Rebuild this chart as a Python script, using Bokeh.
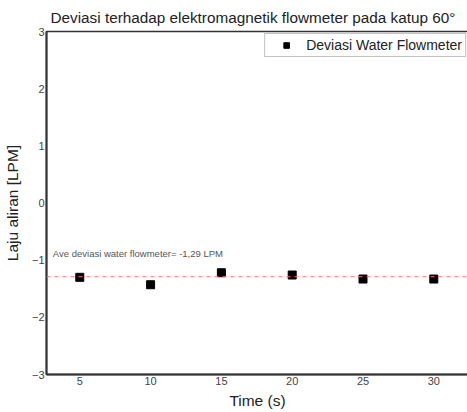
from bokeh.plotting import figure
from bokeh.models import Span, Label, Range1d, FixedTicker, Legend, LegendItem
from bokeh.embed import file_html
from bokeh.resources import INLINE

time_s = [5, 10, 15, 20, 25, 30]
deviasi = [-1.30, -1.43, -1.22, -1.26, -1.33, -1.33]
ave_deviasi = -1.29
y_ticks = [-3, -2, -1, 0, 1, 2, 3]
x_ticks = [5, 10, 15, 20, 25, 30]

FONT = "Liberation Sans"

p = figure(frame_width=422, frame_height=343, output_backend="svg", toolbar_location=None,
           x_range=Range1d(2.65, 32.45), y_range=Range1d(-3, 3),
           min_border_left=36, min_border_top=5, min_border_bottom=30, min_border_right=1)
p.title.text = "Deviasi terhadap elektromagnetik flowmeter pada katup 60°"
p.title.text_font = FONT
p.title.text_font_size = "15.3px"
p.title.text_font_style = "normal"
p.title.text_color = "#222222"
p.title.offset = 4
p.title.standoff = 12

p.xgrid.visible = False
p.ygrid.visible = False
p.outline_line_color = "#333333"
p.outline_line_width = 1.5
p.background_fill_color = "white"
p.border_fill_color = "white"

for ax in (p.xaxis[0], p.yaxis[0]):
    ax.major_tick_out = 0
    ax.major_tick_in = 0
    ax.minor_tick_out = 0
    ax.minor_tick_in = 0
    ax.axis_line_color = "#333333"
    ax.axis_line_width = 2
    ax.major_label_text_font = FONT
    ax.major_label_text_font_size = "11px"
    ax.major_label_text_color = "#444444"
    ax.axis_label_text_font = FONT
    ax.axis_label_text_font_size = "15.5px"
    ax.axis_label_text_font_style = "normal"
    ax.axis_label_text_color = "#222222"

p.xaxis.ticker = FixedTicker(ticks=x_ticks)
p.yaxis.ticker = FixedTicker(ticks=y_ticks)
p.xaxis.axis_label = "Time (s)"
p.yaxis.axis_label = "Laju aliran [LPM]"
p.xaxis.major_label_standoff = 2
p.yaxis.major_label_standoff = 2
p.xaxis.axis_label_standoff = 4
p.yaxis.axis_label_standoff = 8

avg = Span(location=ave_deviasi, dimension="width", line_color="#ff7070",
           line_dash="4 4", line_width=1.2)
p.add_layout(avg)

lbl = Label(x=3.1, y=-0.88, text="Ave deviasi water flowmeter= -1,29 LPM",
            text_font=FONT, text_font_size="9.5px", text_color="#555555",
            text_baseline="middle")
p.add_layout(lbl)

r = p.scatter(time_s, deviasi, marker="square", size=8, fill_color="black", line_color="black")

legend = Legend(items=[LegendItem(label="Deviasi Water Flowmeter", renderers=[r])],
                location="top_right")
legend.label_text_font = FONT
legend.label_text_font_size = "14px"
legend.label_text_color = "#222222"
legend.border_line_color = "#888888"
legend.border_line_width = 1
legend.margin = 2
legend.padding = 3
legend.spacing = 0
legend.glyph_width = 36
legend.glyph_height = 14
legend.label_standoff = 2
legend.label_height = 14
p.add_layout(legend)

open("out.html", "w").write(file_html(p, INLINE))
